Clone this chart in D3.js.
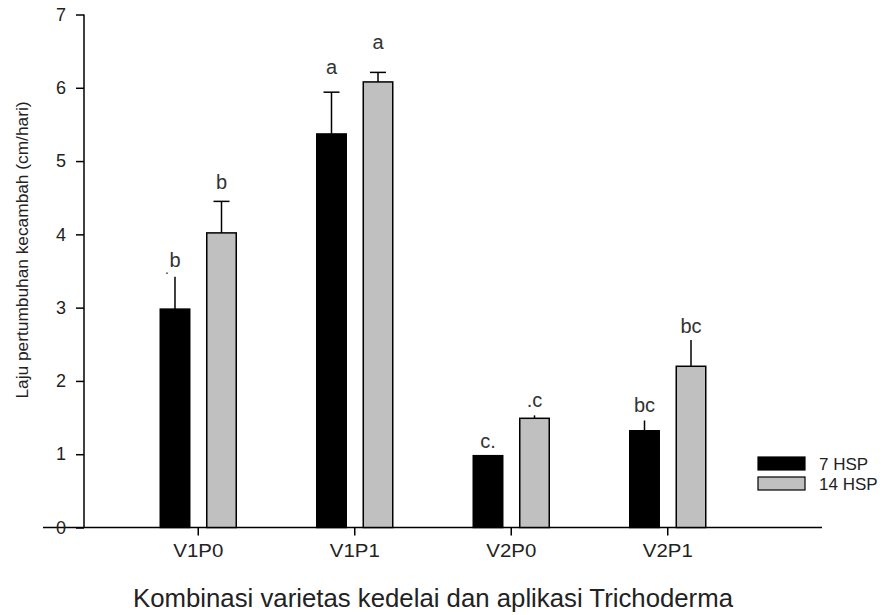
<!DOCTYPE html>
<html>
<head>
<meta charset="utf-8">
<script src="https://cdn.jsdelivr.net/npm/d3@7"></script>
<style>
  html, body { margin: 0; padding: 0; background: #fff; }
  svg { display: block; font-family: Arial, "Liberation Sans", sans-serif; }
</style>
</head>
<body>
<svg id="chart" width="896" height="615"></svg>
<script>
// ---- data ----
const categories = ["V1P0", "V1P1", "V2P0", "V2P1"];
const seriesNames = ["7 HSP", "14 HSP"];
const values7 = [2.98, 5.37, 0.98, 1.32];
const values14 = [4.02, 6.08, 1.49, 2.20];
const err7 = [0.44, 0.57, 0.01, 0.14];
const err14 = [0.43, 0.13, 0.04, 0.36];
const caps7 = [false, true, false, false];
const caps14 = [true, true, false, false];
const letters7 = ["b", "a", "c.", "bc"];
const letters14 = ["b", "a", ".c", "bc"];
const letterY7 = [3.55, 6.19, 1.09, 1.57];
const letterY14 = [4.62, 6.53, 1.64, 2.66];
const yTicks = [0, 1, 2, 3, 4, 5, 6, 7];
const yTitle = "Laju pertumbuhan kecambah (cm/hari)";
const xTitle = "Kombinasi varietas kedelai dan aplikasi Trichoderma";

const svg = d3.select("#chart");
const textColor = "#222";
const colors = ["#000000", "#c0c0c0"];

const y = d3.scaleLinear().domain([0, 7]).range([527.5, 14.5]);
const x = d3.scaleBand().domain(categories).range([120, 746]).padding(0);
const bw = x.bandwidth();
const x1 = d3.scaleBand().domain(seriesNames).range([bw / 2 - 38, bw / 2 + 38]).paddingInner(0.366).paddingOuter(0);

const rows = [];
categories.forEach((c, i) => {
  rows.push({cat: c, s: seriesNames[0], v: values7[i], e: err7[i], cap: caps7[i], lab: letters7[i], ly: letterY7[i], col: colors[0]});
  rows.push({cat: c, s: seriesNames[1], v: values14[i], e: err14[i], cap: caps14[i], lab: letters14[i], ly: letterY14[i], col: colors[1]});
});

// ---- axes ----
const axisX0 = 84;
svg.append("line").attr("x1", 43).attr("x2", 822).attr("y1", y(0)).attr("y2", y(0))
  .attr("stroke", "#000").attr("stroke-width", 1.5);

const yAxis = d3.axisLeft(y).tickValues(yTicks).tickSize(8).tickPadding(10).tickFormat(d3.format("d"));
const gy = svg.append("g").attr("transform", `translate(${axisX0},0)`).call(yAxis);
gy.select(".domain").attr("stroke", "#000").attr("stroke-width", 1.5).attr("d", `M0,${y(7)}V${y(0)}`);
gy.selectAll(".tick line").attr("stroke", "#000").attr("stroke-width", 1.5);
gy.selectAll(".tick text").attr("font-size", 18).attr("fill", textColor).attr("font-family", "Arial, 'Liberation Sans', sans-serif");

const xAxis = d3.axisBottom(x).tickSize(8).tickPadding(8);
const gx = svg.append("g").attr("transform", `translate(0,${y(0)})`).call(xAxis);
gx.select(".domain").remove();
gx.selectAll(".tick line").attr("stroke", "#000").attr("stroke-width", 1.5);
gx.selectAll(".tick text").attr("font-size", 19).attr("fill", textColor)
  .attr("font-family", "Arial, 'Liberation Sans', sans-serif")
  .attr("textLength", 50).attr("lengthAdjust", "spacingAndGlyphs");

// ---- bars ----
const g = svg.append("g");
g.selectAll("rect.bar").data(rows).join("rect").attr("class", "bar")
  .attr("x", d => x(d.cat) + x1(d.s))
  .attr("width", x1.bandwidth())
  .attr("y", d => y(d.v))
  .attr("height", d => y(0) - y(d.v))
  .attr("fill", d => d.col)
  .attr("stroke", "#000").attr("stroke-width", 1.5);

g.selectAll("line.err").data(rows).join("line").attr("class", "err")
  .attr("x1", d => x(d.cat) + x1(d.s) + x1.bandwidth() / 2)
  .attr("x2", d => x(d.cat) + x1(d.s) + x1.bandwidth() / 2)
  .attr("y1", d => y(d.v))
  .attr("y2", d => y(d.v + d.e))
  .attr("stroke", "#000").attr("stroke-width", 1.5);
g.selectAll("line.cap").data(rows.filter(d => d.cap)).join("line").attr("class", "cap")
  .attr("x1", d => x(d.cat) + x1(d.s) + x1.bandwidth() / 2 - 8)
  .attr("x2", d => x(d.cat) + x1(d.s) + x1.bandwidth() / 2 + 8)
  .attr("y1", d => y(d.v + d.e))
  .attr("y2", d => y(d.v + d.e))
  .attr("stroke", "#000").attr("stroke-width", 1.5);

g.selectAll("text.lab").data(rows).join("text").attr("class", "lab")
  .attr("x", d => x(d.cat) + x1(d.s) + x1.bandwidth() / 2)
  .attr("y", d => y(d.ly))
  .attr("text-anchor", "middle")
  .attr("font-size", 20)
  .attr("fill", "#333")
  .text(d => d.lab);
g.append("text")
  .attr("x", x(categories[0]) + x1(seriesNames[0]) + x1.bandwidth() / 2 - 8)
  .attr("y", y(letterY7[0]) + 7)
  .attr("text-anchor", "middle").attr("font-size", 14).attr("fill", "#333").text(".");

// ---- titles ----
svg.append("text")
  .attr("x", 433).attr("y", 607)
  .attr("text-anchor", "middle").attr("font-size", 25).attr("fill", textColor)
  .attr("textLength", 600).attr("lengthAdjust", "spacingAndGlyphs")
  .text(xTitle);

svg.append("text")
  .attr("transform", `translate(28,250) rotate(-90)`)
  .attr("text-anchor", "middle").attr("font-size", 17).attr("fill", textColor)
  .attr("textLength", 297).attr("lengthAdjust", "spacingAndGlyphs")
  .text(yTitle);

// ---- legend ----
const leg = svg.append("g").attr("transform", "translate(758,457)");
seriesNames.forEach((s, i) => {
  const row = leg.append("g").attr("transform", `translate(0,${i * 20})`);
  row.append("rect").attr("x", 0).attr("y", 0).attr("width", 47).attr("height", 13)
    .attr("fill", colors[i]).attr("stroke", "#000").attr("stroke-width", 1.2);
  row.append("text").attr("x", 61).attr("y", 13).attr("font-size", 17).attr("fill", textColor).text(s);
});
</script>
</body>
</html>
